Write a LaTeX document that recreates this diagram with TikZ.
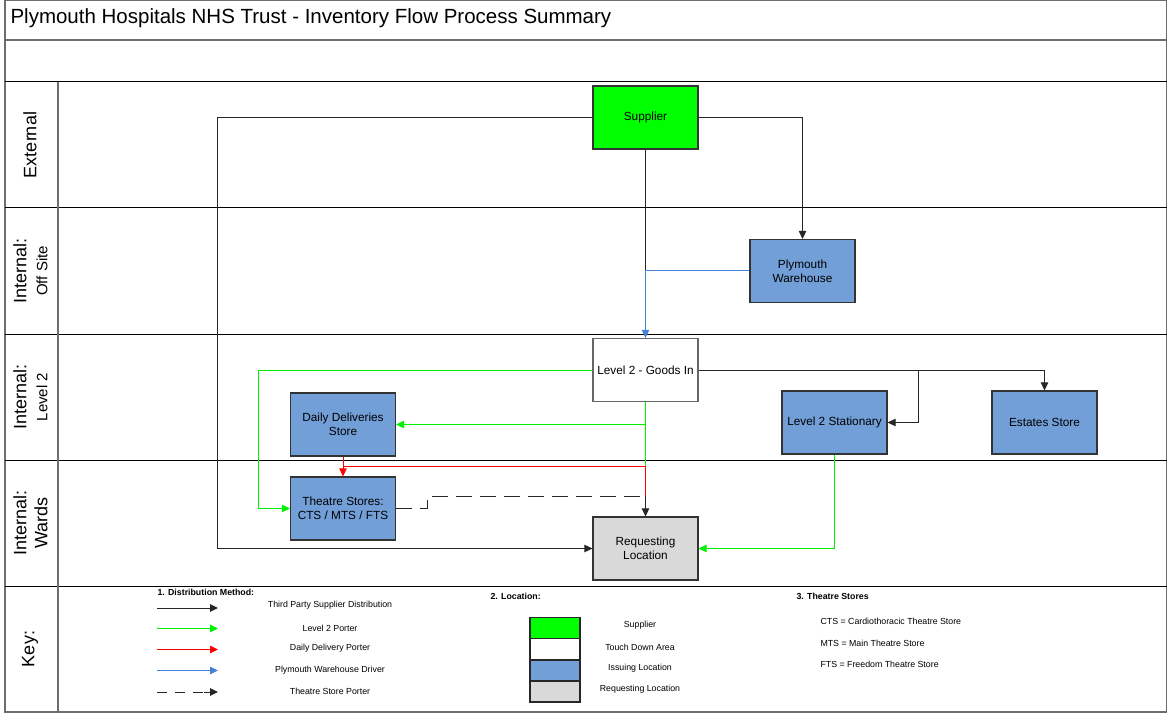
\documentclass[tikz,border=0pt]{standalone}
\usepackage{fontspec}
\setmainfont{Liberation Sans}
\usetikzlibrary{arrows.meta,calc}

\definecolor{supgreen}{RGB}{0,255,0}
\definecolor{issueblue}{RGB}{114,159,216}
\definecolor{reqgray}{RGB}{217,217,217}
\definecolor{porter}{RGB}{0,240,0}
\definecolor{ddred}{RGB}{255,0,0}
\definecolor{drvblue}{RGB}{70,130,215}
\definecolor{frame}{RGB}{110,110,110}

\tikzset{
  box/.style={draw=black!80, line width=1.2pt, minimum width=105pt, minimum height=63pt,
    inner sep=2pt, align=center, font=\fontsize{11.8}{14}\selectfont},
  supbox/.style={box, fill=supgreen},
  tdbox/.style={box, fill=white, draw=black!60},
  issbox/.style={box, fill=issueblue},
  reqbox/.style={box, fill=reqgray},
  tip/.style={-{Triangle[length=8pt,width=7.5pt]}},
  thirdparty/.style={draw=black!85, line width=1pt},
  l2porter/.style={draw=porter, line width=1pt},
  ddporter/.style={draw=ddred, line width=1pt},
  driver/.style={draw=drvblue, line width=1pt},
  tsporter/.style={draw=black!85, line width=1pt, dash pattern=on 16pt off 8pt},
  lane/.style={rotate=90, align=center, font=\fontsize{18}{21}\selectfont},
  keytxt/.style={font=\fontsize{8.8}{10}\selectfont},
  keyhead/.style={font=\bfseries\fontsize{8.8}{10}\selectfont, anchor=west},
  sep/.style={draw=black, line width=1pt},
  framel/.style={draw=frame, line width=1.3pt},
  kbox/.style={draw=black!85, line width=1.2pt, minimum width=50pt, minimum height=21pt, inner sep=0pt},
}

\begin{document}
\begin{tikzpicture}[x=1pt, y=-1pt]
\useasboundingbox (0,0) rectangle (1168,714);

% frame, header rows and swimlanes
\draw[framel] (5,0.6) rectangle (1166.5,712);
\draw[framel] (5,40) -- (1166.5,40);
\draw[sep] (5,82) -- (1166.5,82);
\foreach \y in {208,334,460,586} \draw[sep] (5,\y) -- (1166.5,\y);
\draw[framel] (58,82) -- (58,712);

\node[anchor=west, font=\fontsize{20.5}{24}\selectfont] (title) at (7,18)
  {Plymouth Hospitals NHS Trust - Inventory Flow Process Summary};

\node[lane] (lext) at (30,145) {External};
\node[lane] (loff) at (30.5,271) {Internal:\\{\fontsize{15}{18}\selectfont Off Site}};
\node[lane] (ll2)  at (30.5,397) {Internal:\\{\fontsize{15}{18}\selectfont Level 2}};
\node[lane] (lwd)  at (30.5,523) {Internal:\\Wards};
\node[lane] (lkey) at (30,649) {Key:};

% locations
\node[supbox] (sup)  at (645.5,117.5) {Supplier};
\node[issbox] (wh)   at (802.5,271)   {Plymouth\\Warehouse};
\node[tdbox]  (gin)  at (645.5,370)   {Level 2 - Goods In};
\node[issbox] (dds)  at (343,424.5)   {Daily Deliveries\\Store};
\node[issbox] (stat) at (834.5,422.5) {Level 2 Stationary};
\node[issbox] (est)  at (1044.5,422.5){Estates Store};
\node[issbox] (ts)   at (343,508.5)   {Theatre Stores:\\CTS / MTS / FTS};
\node[reqbox] (req)  at (645.5,548.5) {Requesting\\Location};

\coordinate (whj) at (sup.south |- wh.west);
\coordinate (ddj) at ($(dds.south)!.5!(ts.north)$);
\coordinate (mj)  at ($(req.north)+(0,-20)$);

% third party supplier distribution
\draw[thirdparty, tip] (sup.west) -- ++(-375,0) |- (req.west);
\draw[thirdparty, tip] (sup.east) -| (wh.north);
\draw[thirdparty] (sup.south) -- (whj);
\draw[thirdparty, tip] (gin.east) -| (est.north);
\draw[thirdparty, tip] (gin.east) -- ++(220,0) |- (stat.east);

% Plymouth warehouse driver
\draw[driver, tip] (wh.west) -| (gin.north);

% level 2 porter
\draw[l2porter, tip] (gin.west) -- ++(-334,0) |- (ts.west);
\draw[l2porter, tip] (gin.south) |- (dds.east);
\draw[l2porter] (gin.south) -- (ddj -| gin.south);
\draw[l2porter, tip] (stat.south) |- (req.east);

% daily delivery porter
\draw[ddporter, tip] (dds.south) -- (ts.north);
\draw[ddporter] (ddj) -| (mj);

% theatre store porter
\draw[tsporter] (ts.east) -- ++(31,0) |- (mj);
\draw[thirdparty, tip] (mj) -- (req.north);

% key: distribution method
\node[keyhead] (k1) at (154,592) {1. Distribution Method:};
\draw[thirdparty, tip] (157,608) -- (218,608);
\draw[l2porter, tip]   (157,628.5) -- (218,628.5);
\draw[ddporter, tip]   (157,649.5) -- (218,649.5);
\draw[driver, tip]     (157,670.5) -- (218,670.5);
\draw[thirdparty, dash pattern=on 10pt off 8pt] (157,692) -- (204,692);
\draw[thirdparty, tip] (204,692) -- (218,692);
\node[keytxt] (kt1) at (330,605) {Third Party Supplier Distribution};
\node[keytxt] (kt2) at (330,628) {Level 2 Porter};
\node[keytxt] (kt3) at (330,648.5) {Daily Delivery Porter};
\node[keytxt] (kt4) at (330,670) {Plymouth Warehouse Driver};
\node[keytxt] (kt5) at (330,691) {Theatre Store Porter};

% key: location
\node[keyhead] (k2) at (487,596) {2. Location:};
\node[kbox, fill=supgreen]  (kb1) at (555,628) {};
\node[kbox, fill=white]     (kb2) at (555,649) {};
\node[kbox, fill=issueblue] (kb3) at (555,670.5) {};
\node[kbox, fill=reqgray]   (kb4) at (555,691.5) {};
\node[keytxt] (kl1) at (640,625) {Supplier};
\node[keytxt] (kl2) at (640,647) {Touch Down Area};
\node[keytxt] (kl3) at (640,668) {Issuing Location};
\node[keytxt] (kl4) at (640,689) {Requesting Location};

% key: theatre stores
\node[keyhead] (k3) at (793,596) {3. Theatre Stores};
\node[keytxt, anchor=west] (kc1) at (817,621) {CTS = Cardiothoracic Theatre Store};
\node[keytxt, anchor=west] (kc2) at (817,643) {MTS = Main Theatre Store};
\node[keytxt, anchor=west] (kc3) at (817,664.5) {FTS = Freedom Theatre Store};
\end{tikzpicture}
\end{document}
